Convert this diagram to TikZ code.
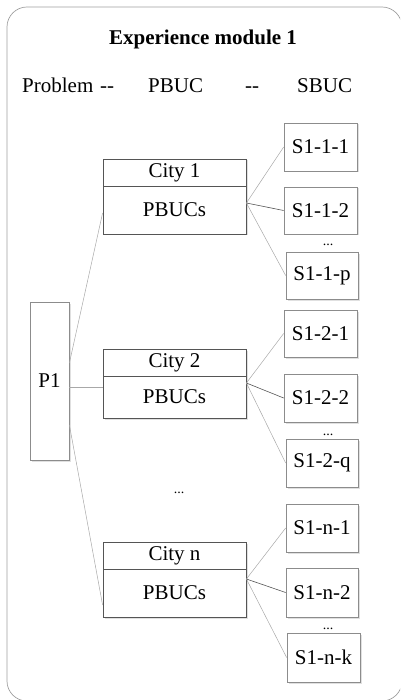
\documentclass[tikz,border=0pt]{standalone}
\usepackage{fontspec}
\setmainfont{Liberation Serif}
\usetikzlibrary{shadows}
\definecolor{cityc}{HTML}{555555}
\definecolor{sboxc}{HTML}{8C8C8C}
\definecolor{linec}{HTML}{A8A8A8}
\definecolor{linedark}{HTML}{555555}
\definecolor{outerc}{HTML}{A0A0A0}
\begin{document}
\begin{tikzpicture}[x=1pt,y=-1pt,
  every node/.style={font=\fontsize{21}{24}\selectfont},
  shade box/.style={drop shadow={shadow xshift=1.5pt,shadow yshift=-1.5pt,fill=black,opacity=0.12}},
  cityhead/.style={draw=cityc,line width=0.8pt,minimum width=143pt,minimum height=27pt,inner sep=0pt,fill=white,shade box},
  citybody/.style={draw=cityc,line width=0.8pt,minimum width=143pt,inner sep=0pt,fill=white,shade box},
  sbox/.style={draw=sboxc,line width=0.7pt,minimum width=73pt,minimum height=48pt,inner sep=0pt,fill=white,shade box},
  pbox/.style={draw=sboxc,line width=0.8pt,minimum width=39pt,minimum height=158pt,inner sep=0pt,fill=white,shade box},
  conn/.style={draw=linec,line width=0.5pt},
  conndark/.style={draw=linedark,line width=0.6pt},
  dots/.style={font=\fontsize{14}{16}\selectfont,anchor=base,inner sep=0pt},
  hdr/.style={anchor=base west,inner sep=0pt}]
\useasboundingbox (0,0) rectangle (400,700);
\clip (0,0) rectangle (400,700);
\draw[draw=outerc,line width=0.7pt,rounded corners=20pt] (7,7) rectangle (402,701);

% title and header
\node[anchor=base,inner sep=0pt,font=\fontsize{21}{24}\selectfont\bfseries] (title) at (203,45) {Experience module 1};
\node[hdr] (hprob) at (22,93) {Problem};
\node[hdr] (hd1) at (100,93) {-{}-};
\node[hdr] (hpbuc) at (148,93) {PBUC};
\node[hdr] (hd2) at (245,93) {-{}-};
\node[hdr] (hsbuc) at (297,93) {SBUC};

% P1
\node[pbox] (p1) at (49.5,381) {P1};

% cities
\node[cityhead] (c1h) at (174.5,172.5) {City 1};
\node[citybody,minimum height=48pt] (c1b) at (174.5,210) {PBUCs};
\node[cityhead] (c2h) at (174.5,362.5) {City 2};
\node[citybody,minimum height=42pt] (c2b) at (174.5,397) {PBUCs};
\node[cityhead] (cnh) at (174.5,555.5) {City n};
\node[citybody,minimum height=48pt] (cnb) at (174.5,593) {PBUCs};

% S boxes
\node[sbox] (s111) at (320.5,147) {S1-1-1};
\node[sbox,minimum height=47pt] (s112) at (320.5,210.5) {S1-1-2};
\node[sbox,minimum width=72pt,minimum height=47pt] (s11p) at (322,275.5) {S1-1-p};
\node[sbox,minimum height=47pt] (s121) at (320.5,333.5) {S1-2-1};
\node[sbox] (s122) at (320.5,398) {S1-2-2};
\node[sbox,minimum width=72pt] (s12q) at (322,463) {S1-2-q};
\node[sbox,minimum width=72pt] (s1n1) at (322,528) {S1-n-1};
\node[sbox,minimum width=72pt,minimum height=49pt] (s1n2) at (322,592.5) {S1-n-2};
\node[sbox,minimum width=73pt,minimum height=49pt] (s1nk) at (323.5,657.5) {S1-n-k};

% dots
\node[dots] (d1) at (328,246) {...};
\node[dots] (d2) at (328,435) {...};
\node[dots] (d3) at (328,629) {...};
\node[dots] (dm) at (179,493) {...};

% connectors P1 -> cities
\draw[conn] ([yshift=18pt]p1.east) -- ([yshift=-3pt]c1b.west);
\draw[conn] ([yshift=-6pt]p1.east) -- ([yshift=10pt]c2b.west);
\draw[conn] ([yshift=-44pt]p1.east) -- ([yshift=-12pt]cnb.west);

% connectors cities -> S
\draw[conn] ([yshift=7pt]c1b.east) -- (s111.west);
\draw[conndark] ([yshift=7pt]c1b.east) -- (s112.west);
\draw[conn] ([yshift=7pt]c1b.east) -- (s11p.west);
\draw[conn] ([yshift=14pt]c2b.east) -- (s121.west);
\draw[conndark] ([yshift=14pt]c2b.east) -- (s122.west);
\draw[conn] ([yshift=14pt]c2b.east) -- (s12q.west);
\draw[conn] ([yshift=14pt]cnb.east) -- (s1n1.west);
\draw[conndark] ([yshift=14pt]cnb.east) -- (s1n2.west);
\draw[conn] ([yshift=14pt]cnb.east) -- (s1nk.west);
\end{tikzpicture}
\end{document}
